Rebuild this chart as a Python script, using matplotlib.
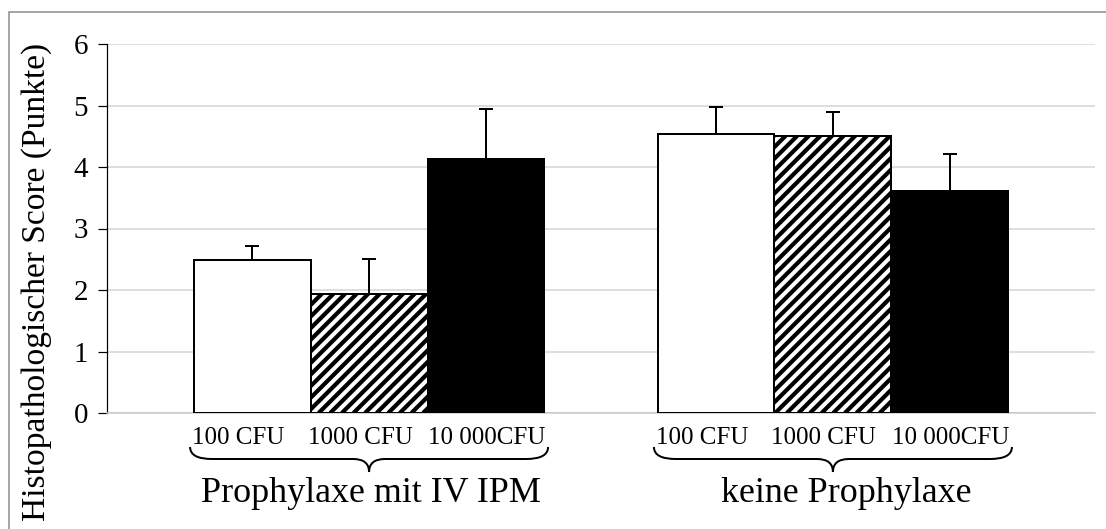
import matplotlib
matplotlib.use("Agg")
import matplotlib.pyplot as plt
import numpy as np
from matplotlib.collections import LineCollection
from matplotlib.path import Path
from matplotlib.patches import PathPatch, Rectangle
from matplotlib.transforms import blended_transform_factory, IdentityTransform

# Werte
groups = ['Prophylaxe mit IV IPM', 'keine Prophylaxe']
doses = ['100 CFU', '1000 CFU', '10 000CFU']
score_100 = [2.48, 4.54]
score_1000 = [1.93, 4.50]
score_10000 = [4.13, 3.61]
sd_100 = [0.24, 0.44]
sd_1000 = [0.57, 0.39]
sd_10000 = [0.81, 0.60]
y_ticks = [0, 1, 2, 3, 4, 5, 6]

DPI = 100
W, H = 1106, 529


def pt(px):
    # Pixel -> Punkte
    return px * 72 / DPI


plt.rcParams['font.family'] = ['Liberation Serif', 'DejaVu Serif']

fig = plt.figure(figsize=(W / DPI, H / DPI), dpi=DPI)
ax = fig.add_axes([107 / W, 1 - 413 / H, (1095 - 107) / W, (413 - 44) / H])
ax.set_xlim(-0.565, 1.565)
ax.set_ylim(0, 6)

x = np.arange(len(groups))
width = 0.252
series = [(score_100, sd_100, 'white', False),
          (score_1000, sd_1000, 'white', True),
          (score_10000, sd_10000, 'black', False)]

for i, (vals, sds, fc, hatched) in enumerate(series):
    pos = x + (i - 1) * width
    bars = ax.bar(pos, vals, width, color=fc, edgecolor='black',
                  linewidth=pt(2), zorder=3)
    ax.errorbar(pos, vals, yerr=[np.zeros(len(vals)), sds], fmt='none',
                ecolor='black', elinewidth=pt(2), capsize=pt(7),
                capthick=pt(2), zorder=4)
    if not hatched:
        continue
    # Schraffur als schräge Linien, auf den Balken zugeschnitten
    for b in bars:
        (px0, py0), (px1, py1) = ax.transData.transform(
            [(b.get_x(), 0), (b.get_x() + b.get_width(), b.get_height())])
        span = (px1 - px0) + (py1 - py0)
        segs = [[(c, py0), (c + span, py0 + span)]
                for c in np.arange(px0 - span, px1 + 12, 11.6)]
        lc = LineCollection(segs, colors='black', linewidths=pt(4.2),
                            transform=IdentityTransform(), zorder=3.5)
        ax.add_collection(lc, autolim=False)
        lc.set_clip_path(b)

ax.set_xlim(-0.565, 1.565)
ax.set_ylim(0, 6)
ax.set_yticks(y_ticks)
ax.set_xticks([])
ax.yaxis.grid(True, color='#d4d4d4', linewidth=pt(1.5), zorder=0)
ax.set_axisbelow(True)
for s in ['top', 'right']:
    ax.spines[s].set_visible(False)
ax.spines['left'].set_linewidth(pt(1.2))
ax.spines['bottom'].set_color('#c8c8c8')
ax.spines['bottom'].set_linewidth(pt(1.5))
ax.tick_params(axis='y', length=pt(9), width=pt(1.2), pad=pt(10),
               labelsize=pt(29))

fig.text(37 / W, 1 - 282 / H, 'Histopathologischer Score (Punkte)',
         rotation=90, ha='center', va='center', fontsize=pt(33.5))

# Beschriftungen unter den Gruppen mit geschweifter Klammer
tr = blended_transform_factory(ax.transData, fig.transFigure)
ppu = (1095 - 107) / (1.565 + 0.565)  # Pixel pro Dateneinheit
dose_shift = [-14, -9, 1]
name_shift = [2, 13]
for gx, name, ns in zip(x, groups, name_shift):
    for i, dose in enumerate(doses):
        fig.text(gx + (i - 1) * width + dose_shift[i] / ppu, 1 - 444 / H,
                 dose, transform=tr, ha='center', va='baseline',
                 fontsize=pt(25))
    fig.text(gx + ns / ppu, 1 - 502 / H, name, transform=tr,
             ha='center', va='baseline', fontsize=pt(36))

    x0, x1 = gx - 179 / ppu, gx + 179 / ppu
    xc = gx
    r1, r2 = 22 / ppu, 16 / ppu
    yt, ym, yb = 1 - 447 / H, 1 - 459 / H, 1 - 472 / H
    verts = [(x0, yt), (x0, ym), (x0 + r1, ym), (xc - r2, ym),
             (xc, ym), (xc, yb), (xc, ym), (xc + r2, ym),
             (x1 - r1, ym), (x1, ym), (x1, yt)]
    codes = [Path.MOVETO, Path.CURVE3, Path.CURVE3, Path.LINETO,
             Path.CURVE3, Path.CURVE3, Path.CURVE3, Path.CURVE3,
             Path.LINETO, Path.CURVE3, Path.CURVE3]
    fig.add_artist(PathPatch(Path(verts, codes), transform=tr, fill=False,
                             edgecolor='black', linewidth=pt(2),
                             clip_on=False))

# Rahmen um die ganze Abbildung
fig.add_artist(Rectangle((9 / W, -0.1), 1.1, 1 - 12 / H + 0.1,
                         transform=fig.transFigure, fill=False,
                         edgecolor='#8a8a8a', linewidth=pt(1.5)))

fig.savefig('out.png', dpi=DPI)
